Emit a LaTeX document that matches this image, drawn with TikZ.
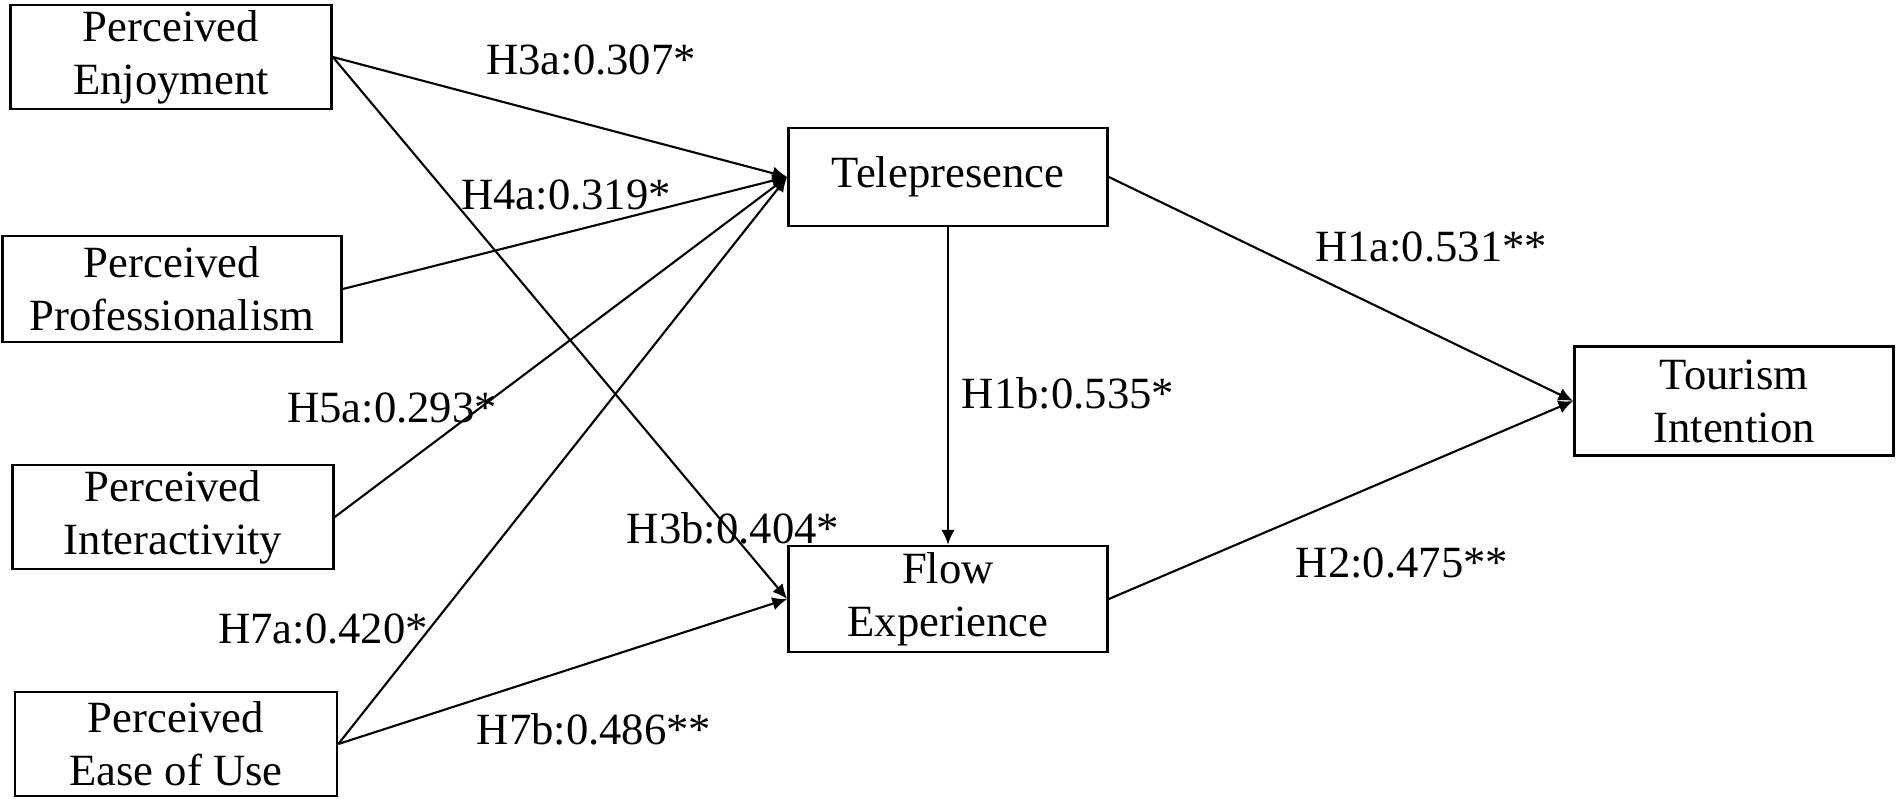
\documentclass[tikz,border=0pt]{standalone}
\usepackage{fontspec}
\setmainfont{Liberation Serif}
\usetikzlibrary{arrows.meta}

\begin{document}
\begin{tikzpicture}[x=0.01cm,y=-0.01cm,
  box/.style={draw,line width=0.7pt,align=center,inner sep=0pt,minimum width=3.21cm,minimum height=1.04cm,font=\fontsize{12.7}{15.1}\selectfont},
  lbl/.style={inner sep=0pt,font=\fontsize{12.7}{15.1}\selectfont},
  arr/.style={line width=0.6pt,-{Latex[length=4.2pt,width=3.8pt]}}]
\useasboundingbox (0,0) rectangle (1902,803);
\node [box] (enjoy) at (171,57) {Perceived\\Enjoyment};
\node [box,minimum width=3.39cm,minimum height=1.06cm] (prof) at (172,289) {Perceived\\Professionalism};
\node [box] (inter) at (173,517) {Perceived\\Interactivity};
\node [box,minimum width=3.22cm] (ease) at (176,744) {Perceived\\Ease of Use};
\node [box,minimum width=3.19cm,minimum height=0.98cm] (tele) at (948,177) {Telepresence};
\node [box,minimum width=3.19cm,minimum height=1.06cm] (flow) at (948,599) {Flow\\Experience};
\node [box,minimum width=3.19cm,minimum height=1.09cm] (tour) at (1734,401) {Tourism\\Intention};

\draw [arr] (enjoy.east) -- (tele.west);
\draw [arr] (enjoy.east) -- (flow.west);
\draw [arr] (prof.east) -- (tele.west);
\draw [arr] (inter.east) -- (tele.west);
\draw [arr] (ease.east) -- (tele.west);
\draw [arr] (ease.east) -- (flow.west);
\draw [arr] (tele.south) -- (flow.north);
\draw [arr] (tele.east) -- (tour.west);
\draw [arr] (flow.east) -- (tour.west);

\node [lbl] (h3a) at (591,60) {H3a:0.307*};
\node [lbl] (h4a) at (566,195) {H4a:0.319*};
\node [lbl] (h5a) at (392,408) {H5a:0.293*};
\node [lbl] (h7a) at (323,629) {H7a:0.420*};
\node [lbl] (h3b) at (733,528) {H3b:0.404*};
\node [lbl] (h7b) at (594,729) {H7b:0.486**};
\node [lbl] (h1b) at (1068,393) {H1b:0.535*};
\node [lbl] (h1a) at (1431,247) {H1a:0.531**};
\node [lbl] (h2) at (1402,563) {H2:0.475**};
\end{tikzpicture}
\end{document}
